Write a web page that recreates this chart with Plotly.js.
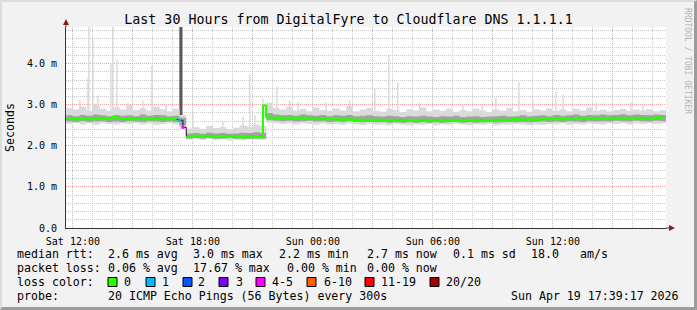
<!DOCTYPE html>
<html><head><meta charset="utf-8">
<script src="https://cdn.plot.ly/plotly-3.0.1.min.js"></script>
<style>
html,body{margin:0;padding:0;background:#f2f2f2;}
#wrap{position:relative;width:697px;height:310px;overflow:hidden;}
#chart{width:697px;height:310px;}
#frame{position:absolute;left:0;top:0;width:697px;height:310px;box-sizing:border-box;border-top:2px solid #dcdcdc;border-left:2px solid #dcdcdc;border-right:3px solid #9c9c9c;border-bottom:3px solid #9c9c9c;pointer-events:none;}
</style>
</head><body><div id="wrap"><div id="chart"></div><div id="frame"></div></div>
<script>
// ---------------- DATA ----------------
const chartTitle = 'Last 30 Hours from DigitalFyre to Cloudflare DNS 1.1.1.1';
const yTickVals = [0, 1, 2, 3, 4];
const yTickText = ['0.0', '1.0 m', '2.0 m', '3.0 m', '4.0 m'];
const xTickVals = ['2026-04-18 12:00','2026-04-18 15:00','2026-04-18 18:00','2026-04-18 21:00','2026-04-19 00:00','2026-04-19 03:00','2026-04-19 06:00','2026-04-19 09:00','2026-04-19 12:00','2026-04-19 15:00'];
const xTickText = ['Sat 12:00','','Sat 18:00','','Sun 00:00','','Sun 06:00','','Sun 12:00',''];

// median rtt (ms), one value every 10 minutes from Sat 11:40
const medianRtt = [
 2.66,2.65,2.66,2.64,2.65,2.67,2.66,2.65,2.64,2.66,2.67,2.65,2.66,2.68,2.70,2.67,2.66,2.65,2.66,2.64,
 2.65,2.67,2.66,2.65,2.64,2.66,2.65,2.67,2.66,2.64,2.65,2.66,2.65,2.64,
 2.62,2.45,
 2.22,2.23,2.24,2.22,2.23,2.25,2.23,2.22,2.24,2.23,2.22,2.21,2.23,2.24,2.22,2.23,2.21,2.20,2.22,2.23,2.22,2.21,2.23,
 2.98,2.70,
 2.68,2.67,2.68,2.69,2.67,2.68,2.66,2.68,2.67,2.68,2.69,2.67,2.66,2.67,
 2.66,2.65,2.66,2.64,2.65,2.66,2.64,2.65,2.63,2.64,2.65,2.63,2.64,2.63,2.62,2.64,2.63,2.62,
 2.63,2.61,2.62,2.63,2.61,2.62,2.60,2.62,2.61,2.62,2.63,2.61,2.60,2.61,2.62,2.60,2.61,2.62,
 2.61,2.60,2.62,2.61,2.62,2.63,2.61,2.60,2.62,2.61,2.63,2.62,2.61,2.62,2.60,2.61,2.63,2.62,
 2.62,2.63,2.64,2.62,2.63,2.65,2.63,2.64,2.62,2.64,2.65,2.63,2.64,2.66,2.64,2.65,2.66,2.64,
 2.65,2.66,2.64,2.65,2.67,2.66,2.65,2.67,2.66,2.68,2.66,2.67,2.65,2.66,2.67,2.68,2.66,2.67,
 2.67,2.68,2.66,2.67,2.68,2.67,2.66,2.68,2.67,2.66,2.67,2.68,2.66,2.69,2.74
];
// points with lost pings (out of 20)
const lossTime = ['2026-04-18 17:20:00','2026-04-18 17:30:00'];
const lossPings = [1, 5];

// smoke (ms), one value every 20 minutes from Sat 11:40
const smokeHi = [
 2.92,2.88,2.95,2.86,3.02,2.90,2.85,2.94,2.88,3.00,2.87,2.92,2.86,2.95,2.89,2.84,2.90,
 2.75,
 2.42,2.45,2.40,2.48,2.43,2.46,2.41,2.44,2.50,2.47,2.52,
 2.48,
 3.05,2.92,2.88,2.95,2.86,2.90,2.84,2.93,2.87,2.85,
 2.91,2.86,2.96,2.84,2.88,2.92,2.85,2.83,2.90,2.87,
 2.82,2.89,2.86,2.93,2.84,2.88,2.85,2.91,2.83,2.87,
 2.84,2.90,2.86,2.82,2.88,2.85,2.92,2.84,2.87,2.83,
 2.89,2.86,2.91,2.85,2.88,2.84,2.90,2.86,2.93,2.85,
 2.88,2.84,2.87,2.90,2.85,2.88,2.86,2.89,2.84,2.87,
 2.85
];
const smokeLo = [
 2.53,2.55,2.52,2.54,2.51,2.55,2.53,2.52,2.54,2.53,2.55,2.52,2.54,2.51,2.53,2.55,2.52,
 2.42,
 2.15,2.16,2.14,2.17,2.15,2.16,2.13,2.15,2.14,2.16,2.15,
 2.15,
 2.56,2.55,2.53,2.54,2.52,2.55,2.53,2.51,2.54,2.52,
 2.53,2.51,2.54,2.52,2.50,2.53,2.51,2.52,2.50,2.53,
 2.51,2.50,2.52,2.51,2.53,2.50,2.52,2.51,2.53,2.52,
 2.50,2.52,2.51,2.53,2.50,2.52,2.51,2.53,2.52,2.50,
 2.52,2.51,2.53,2.52,2.54,2.51,2.53,2.52,2.54,2.53,
 2.52,2.54,2.53,2.55,2.52,2.54,2.53,2.55,2.53,2.54,
 2.56
];
const coreHi = [
 2.74,2.72,2.75,2.73,2.76,2.74,2.72,2.75,2.73,2.74,2.72,2.76,2.73,2.75,2.74,2.72,2.73,
 2.68,
 2.30,2.31,2.29,2.32,2.30,2.31,2.29,2.30,2.32,2.31,2.33,
 2.31,
 2.80,2.76,2.74,2.75,2.73,2.76,2.74,2.73,2.75,2.72,
 2.74,2.73,2.75,2.72,2.73,2.74,2.72,2.71,2.73,2.72,
 2.70,2.72,2.71,2.73,2.71,2.70,2.72,2.71,2.73,2.70,
 2.71,2.72,2.70,2.71,2.72,2.73,2.71,2.72,2.74,2.72,
 2.73,2.74,2.72,2.75,2.73,2.74,2.76,2.73,2.75,2.74,
 2.76,2.74,2.75,2.77,2.74,2.76,2.75,2.74,2.76,2.75,
 2.78
];
const coreLo = [
 2.59,2.58,2.60,2.58,2.59,2.60,2.58,2.59,2.58,2.60,2.59,2.58,2.60,2.59,2.58,2.59,2.58,
 2.50,
 2.18,2.19,2.18,2.19,2.17,2.18,2.19,2.17,2.18,2.17,2.18,
 2.18,
 2.62,2.61,2.60,2.61,2.59,2.60,2.61,2.59,2.60,2.58,
 2.59,2.58,2.60,2.58,2.57,2.58,2.57,2.58,2.56,2.57,
 2.56,2.57,2.56,2.58,2.56,2.57,2.56,2.57,2.58,2.56,
 2.57,2.56,2.57,2.58,2.56,2.57,2.58,2.57,2.58,2.57,
 2.58,2.59,2.58,2.59,2.58,2.60,2.59,2.58,2.60,2.59,
 2.60,2.59,2.61,2.60,2.59,2.61,2.60,2.59,2.61,2.60,
 2.63
];

// single high pings (ms)
const spikeTime = [
 '2026-04-18 12:21','2026-04-18 12:45','2026-04-18 12:48','2026-04-18 13:00','2026-04-18 13:15','2026-04-18 13:54',
 '2026-04-18 14:00','2026-04-18 14:12','2026-04-18 14:45','2026-04-18 15:30','2026-04-18 15:57','2026-04-18 16:40',
 '2026-04-18 18:00','2026-04-18 19:30','2026-04-18 20:30','2026-04-18 20:51','2026-04-18 21:06','2026-04-18 21:30',
 '2026-04-18 22:12','2026-04-18 22:50','2026-04-18 23:15','2026-04-19 00:40','2026-04-19 01:50','2026-04-19 03:06',
 '2026-04-19 03:48','2026-04-19 04:15','2026-04-19 05:20','2026-04-19 07:30','2026-04-19 08:27','2026-04-19 09:09',
 '2026-04-19 10:18','2026-04-19 11:00','2026-04-19 12:09','2026-04-19 12:30','2026-04-19 14:10','2026-04-19 15:54',
 '2026-04-19 16:30'
];
const spikeBase = [
 2.85,2.85,2.85,2.85,2.85,2.85,
 2.85,2.85,2.85,2.85,2.85,2.85,
 2.40,2.40,2.40,2.40,2.40,2.85,
 2.85,2.85,2.85,2.85,2.85,2.85,
 2.85,2.85,2.85,2.85,2.85,2.85,
 2.85,2.85,2.85,2.85,2.85,2.85,
 2.85
];
const spikeTop = [
 3.10,3.65,4.95,4.60,3.22,4.00,
 4.95,4.10,3.05,3.10,3.95,3.00,
 2.83,2.60,2.70,3.73,2.75,3.15,
 3.44,3.10,3.07,3.05,3.10,3.40,
 4.20,3.55,3.05,3.00,3.00,3.17,
 3.56,3.10,3.30,3.24,3.05,3.05,
 3.00
];
// smoke of the interval with packet loss
const lossSmokeTime = ['2026-04-18 17:24'];
const lossSmokeLo = [2.48];
const lossSmokeHi = [4.95];

// legend / statistics
const rttStats = ['2.6','3.0','2.2','2.7','0.1','18.0'];
const lossStats = ['0.06','17.67','0.00','0.00'];
const lossBins = ['0','1','2','3','4-5','6-10','11-19','20/20'];
const lossBinColors = ['#26ff00','#00b8ff','#0059ff','#7e00ff','#ff00ff','#ff5e00','#ff0000','#a10000'];
const probeText = '20 ICMP Echo Pings (56 Bytes) every 300s';
const stampText = 'Sun Apr 19 17:39:17 2026';

// ---------------- BUILD ----------------
const START = Date.UTC(2026,3,18,11,40,0);
function iso(ms){const d=new Date(ms);const p=n=>String(n).padStart(2,'0');
 return d.getUTCFullYear()+'-'+p(d.getUTCMonth()+1)+'-'+p(d.getUTCDate())+' '+p(d.getUTCHours())+':'+p(d.getUTCMinutes())+':'+p(d.getUTCSeconds());}
const medianTime = medianRtt.map((_,i)=>iso(START+i*600000));
const smokeTime = smokeHi.map((_,j)=>iso(START+j*1200000));
function binColor(n){ if(n===0)return lossBinColors[0]; if(n===1)return lossBinColors[1]; if(n===2)return lossBinColors[2]; if(n===3)return lossBinColors[3];
 if(n<=5)return lossBinColors[4]; if(n<=10)return lossBinColors[5]; if(n<20)return lossBinColors[6]; return lossBinColors[7]; }
const lossIdx = lossTime.map(t=>medianTime.indexOf(t));
const greenY = medianRtt.map((v,i)=>lossIdx.includes(i)?null:v);

const MONO = 'DejaVu Sans Mono, monospace';
const traces = [
 {type:'bar', x:spikeTime, base:spikeBase, y:spikeTop.map((v,i)=>v-spikeBase[i]), width:240000,
  marker:{color:'#d6d6d6', line:{width:0}}, hoverinfo:'skip', showlegend:false},
 {type:'bar', x:lossSmokeTime, base:lossSmokeLo, y:lossSmokeHi.map((v,i)=>v-lossSmokeLo[i]), width:560000,
  marker:{color:'#585858', line:{width:0}}, hoverinfo:'skip', showlegend:false},
 {type:'scatter', mode:'lines', x:smokeTime, y:smokeLo, line:{width:0, shape:'hv'}, hoverinfo:'skip', showlegend:false},
 {type:'scatter', mode:'lines', x:smokeTime, y:smokeHi, fill:'tonexty', fillcolor:'#dadada', line:{width:0, shape:'hv'}, hoverinfo:'skip', showlegend:false},
 {type:'scatter', mode:'lines', x:smokeTime, y:coreLo, line:{width:0, shape:'hv'}, hoverinfo:'skip', showlegend:false},
 {type:'scatter', mode:'lines', x:smokeTime, y:coreHi, fill:'tonexty', fillcolor:'#a2a2a2', line:{width:0, shape:'hv'}, hoverinfo:'skip', showlegend:false},
 {type:'scatter', mode:'lines', x:medianTime, y:medianRtt, line:{color:'#111', width:1, shape:'hv'}, hoverinfo:'skip', showlegend:false},
 {type:'scatter', mode:'lines', x:medianTime, y:greenY, connectgaps:false, line:{color:lossBinColors[0], width:2.2, shape:'hv'}, hoverinfo:'skip', showlegend:false},
 {type:'scatter', mode:'markers', x:lossTime, y:lossIdx.map(i=>medianRtt[i]),
  marker:{symbol:'square', size:3, color:lossPings.map(binColor), line:{width:0}}, hoverinfo:'skip', showlegend:false}
];

// pixel helpers (plot area: x 66..666, y 27..228)
const PL=66, PR=666, PT=27, PB=228;
const px = v => (v-PL)/(PR-PL);
const py = v => (PB-v)/(PB-PT);

const ann = [];
function txt(x,y,t,extra){ ann.push(Object.assign({xref:'paper',yref:'paper',x:px(x),y:py(y),text:t,showarrow:false,xanchor:'left',yanchor:'middle',
  font:{family:MONO,size:11.6,color:'#000'}}, extra||{})); }
const R1=254,R2=268,R3=282,R4=296;
txt(15,R1,'median rtt:');
txt(106,R1,rttStats[0]+' ms avg'); txt(191,R1,rttStats[1]+' ms max'); txt(277,R1,rttStats[2]+' ms min');
txt(365,R1,rttStats[3]+' ms now'); txt(451,R1,rttStats[4]+' ms sd'); txt(529,R1,rttStats[5]); txt(578,R1,'am/s');
txt(15,R2,'packet loss:');
txt(106,R2,lossStats[0]+' % avg'); txt(191,R2,lossStats[1]+' % max'); txt(285,R2,lossStats[2]+' % min'); txt(365,R2,lossStats[3]+' % now');
txt(15,R3,'loss color:');
const boxX=[108,146,183,219,256,307,365,430];
const labX=[122,160,196,234,270,322,379,444];
const shapes=[];
lossBins.forEach((b,i)=>{
 shapes.push({type:'rect',xref:'paper',yref:'paper',x0:px(boxX[i]),x1:px(boxX[i]+9),y0:py(277.5),y1:py(286.5),
  fillcolor:lossBinColors[i],line:{color:'#000',width:1},layer:'above'});
 txt(labX[i],R3,b);
});
txt(15,R4,'probe:'); txt(106,R4,probeText);
txt(681,R4,stampText,{xanchor:'right'});
ann.push({xref:'paper',yref:'paper',x:px(688),y:py(61),text:'RRDTOOL / TOBI OETIKER',textangle:90,showarrow:false,
 xanchor:'center',yanchor:'middle',font:{family:MONO,size:8,color:'#b4b4b4'}});

// axis arrows
shapes.push({type:'line',xref:'paper',yref:'paper',x0:0,x1:0,y0:1,y1:py(23),line:{color:'#333',width:1}});
shapes.push({type:'path',xref:'paper',yref:'paper',path:`M${px(63)},${py(25)} L${px(69)},${py(25)} L${px(66)},${py(19)} Z`,fillcolor:'#8b1a1a',line:{width:0}});
shapes.push({type:'line',xref:'paper',yref:'paper',x0:1,x1:px(670),y0:0,y1:0,line:{color:'#333',width:1}});
shapes.push({type:'path',xref:'paper',yref:'paper',path:`M${px(669)},${py(225)} L${px(669)},${py(231)} L${px(675)},${py(228)} Z`,fillcolor:'#8b1a1a',line:{width:0}});

const layout = {
 width:697, height:310,
 margin:{l:PL, r:697-PR, t:PT, b:310-PB, pad:0},
 paper_bgcolor:'#f2f2f2', plot_bgcolor:'#ffffff',
 barmode:'overlay', showlegend:false,
 title:{text:chartTitle, font:{family:MONO,size:13.3,color:'#000'}, xref:'container', x:0.5, xanchor:'center', yref:'container', y:1-19/310, yanchor:'middle'},
 xaxis:{type:'date', range:['2026-04-18 11:39:17','2026-04-19 17:39:17'], tickmode:'array', tickvals:xTickVals, ticktext:xTickText,
  showgrid:true, gridcolor:'#f4a0a0', griddash:'1px,1px', gridwidth:1, ticks:'', ticklabelstandoff:4,
  tickfont:{family:MONO,size:10,color:'#000'}, showline:true, linecolor:'#333', linewidth:1, zeroline:false, fixedrange:true,
  minor:{tickmode:'linear', tick0:'2026-04-18 12:00', dtick:3600000, showgrid:true, gridcolor:'#c8c8c8', griddash:'1px,1px', gridwidth:1, ticks:''}},
 yaxis:{range:[0,4.89], tickmode:'array', tickvals:yTickVals, ticktext:yTickText,
  showgrid:true, gridcolor:'#f4a0a0', griddash:'1px,1px', gridwidth:1, ticks:'', ticklabelstandoff:6,
  tickfont:{family:MONO,size:10,color:'#000'}, showline:true, linecolor:'#333', linewidth:1, zeroline:false, fixedrange:true,
  title:{text:'Seconds', font:{family:MONO,size:11.6,color:'#000'}, standoff:9},
  minor:{tickmode:'linear', tick0:0, dtick:0.2, showgrid:true, gridcolor:'#c8c8c8', griddash:'1px,1px', gridwidth:1, ticks:''}},
 annotations:ann, shapes:shapes
};
Plotly.newPlot('chart', traces, layout, {staticPlot:true, displayModeBar:false});
</script></body></html>
